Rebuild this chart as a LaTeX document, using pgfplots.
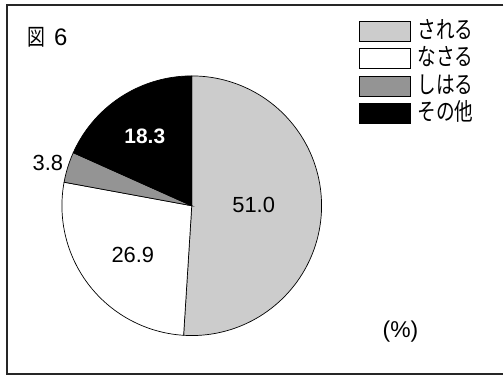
\documentclass[border=0pt]{standalone}
\usepackage{pgfplots}
\pgfplotsset{compat=1.18}
\usepackage{fontspec}
\setmainfont{Liberation Sans}
\newfontfamily\jp{Noto Sans CJK JP}[FakeStretch=0.78]
\begin{document}
\begin{tikzpicture}
% shares (%) of the pie, clockwise from the top
\pgfmathsetmacro{\va}{51.0}
\pgfmathsetmacro{\vb}{26.9}
\pgfmathsetmacro{\vc}{3.8}
\pgfmathsetmacro{\vd}{18.3}
\pgfmathsetmacro{\aa}{90}
\pgfmathsetmacro{\ab}{\aa-3.6*\va}
\pgfmathsetmacro{\ac}{\ab-3.6*\vb}
\pgfmathsetmacro{\ad}{\ac-3.6*\vc}
\pgfmathsetmacro{\ae}{\ad-3.6*\vd}
\begin{axis}[
  scale only axis, width=504bp, height=376bp,
  xmin=0, xmax=504, ymin=0, ymax=376,
  hide axis, clip=false,
  legend cell align=left,
  legend style={at={(axis cs:359,355)}, anchor=north west, draw=none, fill=none,
    row sep=6.5bp, inner sep=0pt,
    nodes={inner sep=0pt, text height=17bp, text depth=3bp, font=\fontsize{24}{24}\selectfont\jp},
    /tikz/every odd column/.append style={column sep=7bp}},
  legend image code/.code={\draw[#1,draw=black,line width=0.8pt] (0bp,-10bp) rectangle (51bp,10bp);},
]
\path (axis cs:0,0) rectangle (axis cs:504,376);
\addplot[draw=black, line width=0.7pt, fill=black!20, domain=\ab:\aa, samples=90, variable=\t]
  ({192+130*cos(\t)},{170+130*sin(\t)}) -- (axis cs:192,170) -- cycle;
\addlegendentry{される}
\addplot[draw=black, line width=0.7pt, fill=white, domain=\ac:\ab, samples=60, variable=\t]
  ({192+130*cos(\t)},{170+130*sin(\t)}) -- (axis cs:192,170) -- cycle;
\addlegendentry{なさる}
\addplot[draw=black, line width=0.7pt, fill=black!42, domain=\ad:\ac, samples=20, variable=\t]
  ({192+130*cos(\t)},{170+130*sin(\t)}) -- (axis cs:192,170) -- cycle;
\addlegendentry{しはる}
\addplot[draw=black, line width=0.7pt, fill=black, domain=\ae:\ad, samples=40, variable=\t]
  ({192+130*cos(\t)},{170+130*sin(\t)}) -- (axis cs:192,170) -- cycle;
\addlegendentry{その他}
\node[font=\fontsize{22}{22}\selectfont] at (axis cs:254,171) {51.0};
\node[font=\fontsize{22}{22}\selectfont] at (axis cs:133,121) {26.9};
\node[font=\fontsize{22}{22}\selectfont] at (axis cs:48,213) {3.8};
\node[font=\fontsize{21}{21}\selectfont\bfseries, text=white] at (axis cs:145,239) {18.3};
\node[font=\fontsize{23}{23}\selectfont] at (axis cs:401,44) {(\%)};
\node[anchor=west, inner sep=0pt] at (axis cs:27,339) {\fontsize{23}{23}\selectfont\jp 図\hspace{9bp}\fontsize{24}{24}\selectfont\rmfamily 6};
\draw[line width=1.3pt, black!85] (axis cs:504,371) -- (axis cs:7,371) -- (axis cs:7,1.5) -- (axis cs:504,1.5);
\end{axis}
\end{tikzpicture}
\end{document}
